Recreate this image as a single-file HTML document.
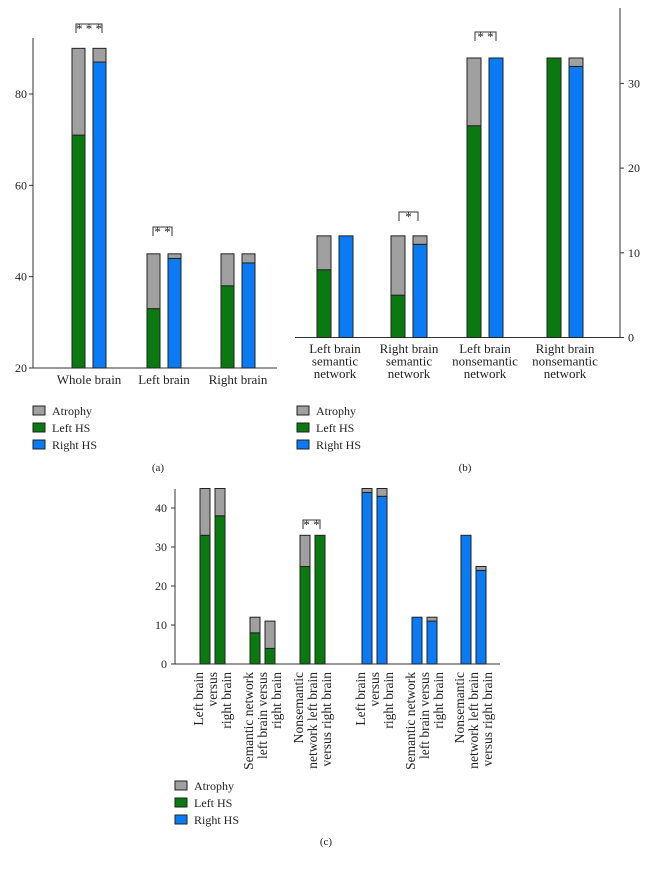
<!DOCTYPE html>
<html><head><meta charset="utf-8"><style>
body{margin:0;background:#fff}
svg text{font-family:"Liberation Serif",serif;fill:#222}
</style></head><body>
<svg width="652" height="869">
<g id="root"></g>
</svg>
<script>
// Panel (a)
const catsA=["Whole brain","Left brain","Right brain"];
const leftA=[71,33,38], leftAtrA=[90,45,45];
const rightA=[87,44,43], rightAtrA=[90,45,45];
const ticksA=[20,40,60,80];
// Panel (b)
const catsB=[["Left brain","semantic","network"],["Right brain","semantic","network"],["Left brain","nonsemantic","network"],["Right brain","nonsemantic","network"]];
const leftB=[8,5,25,33], leftAtrB=[12,12,33,33];
const rightB=[12,11,33,32], rightAtrB=[12,12,33,33];
const ticksB=[0,10,20,30];
// Panel (c)
const catsC=[["Left brain","versus","right brain"],["Semantic network","left brain versus","right brain"],["Nonsemantic","network left brain","versus right brain"],["Left brain","versus","right brain"],["Semantic network","left brain versus","right brain"],["Nonsemantic","network left brain","versus right brain"]];
const baseC=[33,38,8,4,25,33,44,43,12,11,33,24];
const topC=[45,45,12,11,33,33,45,45,12,12,33,25];
const colorC=["g","g","g","g","g","g","b","b","b","b","b","b"];
const ticksC=[0,10,20,30,40];

const NS="http://www.w3.org/2000/svg";
const root=document.getElementById('root');
const COL={g:"#0a7a10",b:"#0a7af5",a:"#a0a0a0"};
function mk(tag,attrs,parent){const e=document.createElementNS(NS,tag);for(const k in attrs)e.setAttribute(k,attrs[k]);(parent||root).appendChild(e);return e;}
function txt(s,x,y,anchor,size,parent){const t=mk('text',{x:x,y:y,'text-anchor':anchor||'middle','font-size':size||13},parent);t.textContent=s;return t;}
function stack(x,w,ys,base,val,top,c,name){
  const r1=mk('rect',{x:x,y:ys(val),width:w,height:ys(base)-ys(val),fill:COL[c],stroke:'#222','stroke-width':1});
  
  
  if(top>val){const r2=mk('rect',{x:x,y:ys(top),width:w,height:ys(val)-ys(top),fill:COL.a,stroke:'#222','stroke-width':1});
  
  }
}
function bracket(x1,x2,y,stars){
  const p=mk('path',{d:`M${x1},${y+9}V${y}H${x2}V${y+9}`,fill:'none',stroke:'#333','stroke-width':1});
  
  
  const t=txt(stars,(x1+x2)/2,y+9,'middle',13);
  
  
}
function legend(x,y){
  const items=[["Atrophy",COL.a],["Left HS",COL.g],["Right HS",COL.b]];
  items.forEach((it,i)=>{
    const r=mk('rect',{x:x,y:y+i*17-5,width:12,height:9,fill:it[1],stroke:'#222','stroke-width':1});
    
    
    const t=txt(it[0],x+19,y+i*17+4,'start',12);
    
    
  });
}
// ---- (a)
{
  const ys=v=>368-(v-20)*(274/60);
  mk('line',{x1:33,y1:38,x2:33,y2:368,stroke:'#333'});
  mk('line',{x1:33,y1:368,x2:277,y2:368,stroke:'#333'});
  ticksA.forEach(t=>{mk('line',{x1:29,y1:ys(t),x2:33,y2:ys(t),stroke:'#333'});
    const l=txt(String(t),27,ys(t)+4,'end',12);});
  const starts=[72,147,221];
  catsA.forEach((c,i)=>{
    stack(starts[i],13,ys,20,leftA[i],leftAtrA[i],'g','a-left-'+i);
    stack(starts[i]+21,13,ys,20,rightA[i],rightAtrA[i],'b','a-right-'+i);
    const l=txt(c,starts[i]+17,384,'middle',13);
  });
  bracket(76,102,24,"* * *");
  bracket(153,172,227,"* *");
  legend(33,411);
  txt("(a)",158,471,'middle',11);
}
// ---- (b)
{
  const ys=v=>337.5-v*8.47;
  mk('line',{x1:620,y1:8,x2:620,y2:337.5,stroke:'#333'});
  mk('line',{x1:295,y1:337.5,x2:620,y2:337.5,stroke:'#333'});
  ticksB.forEach(t=>{mk('line',{x1:620,y1:ys(t),x2:624,y2:ys(t),stroke:'#333'});
    const l=txt(String(t),628,ys(t)+4,'start',12);});
  const starts=[317,391,467,547];
  catsB.forEach((c,i)=>{
    stack(starts[i],14,ys,0,leftB[i],leftAtrB[i],'g','b-left-'+i);
    stack(starts[i]+22,14,ys,0,rightB[i],rightAtrB[i],'b','b-right-'+i);
    c.forEach((s,j)=>{const l=txt(s,starts[i]+18,353+j*12.5,'middle',13);});
  });
  bracket(399,418,212,"*");
  bracket(475,496,32,"* *");
  legend(297,411);
  txt("(b)",465,471,'middle',11);
}
// ---- (c)
{
  const ys=v=>664-v*3.9;
  mk('line',{x1:175,y1:489,x2:175,y2:664,stroke:'#333'});
  mk('line',{x1:175,y1:664,x2:500,y2:664,stroke:'#333'});
  ticksC.forEach(t=>{mk('line',{x1:171,y1:ys(t),x2:175,y2:ys(t),stroke:'#333'});
    const l=txt(String(t),167,ys(t)+4,'end',12);});
  const starts=[200,250,300,362,412,461];
  baseC.forEach((v,i)=>{
    const g=Math.floor(i/2);
    stack(starts[g]+(i%2)*15,10,ys,0,v,topC[i],colorC[i],'c-bar-'+i);
  });
  catsC.forEach((c,i)=>{
    const cx=starts[i]+12;
    c.forEach((s,j)=>{
      const x=cx-14+j*14+5;
      const t=mk('text',{x:0,y:0,'text-anchor':'end','font-size':13.5,transform:`translate(${x},672) rotate(-90)`});
      t.textContent=s;
      
      
    });
  });
  bracket(303,320,520,"* *");
  legend(175,786);
  txt("(c)",326,845,'middle',11);
}
</script>
</body></html>
